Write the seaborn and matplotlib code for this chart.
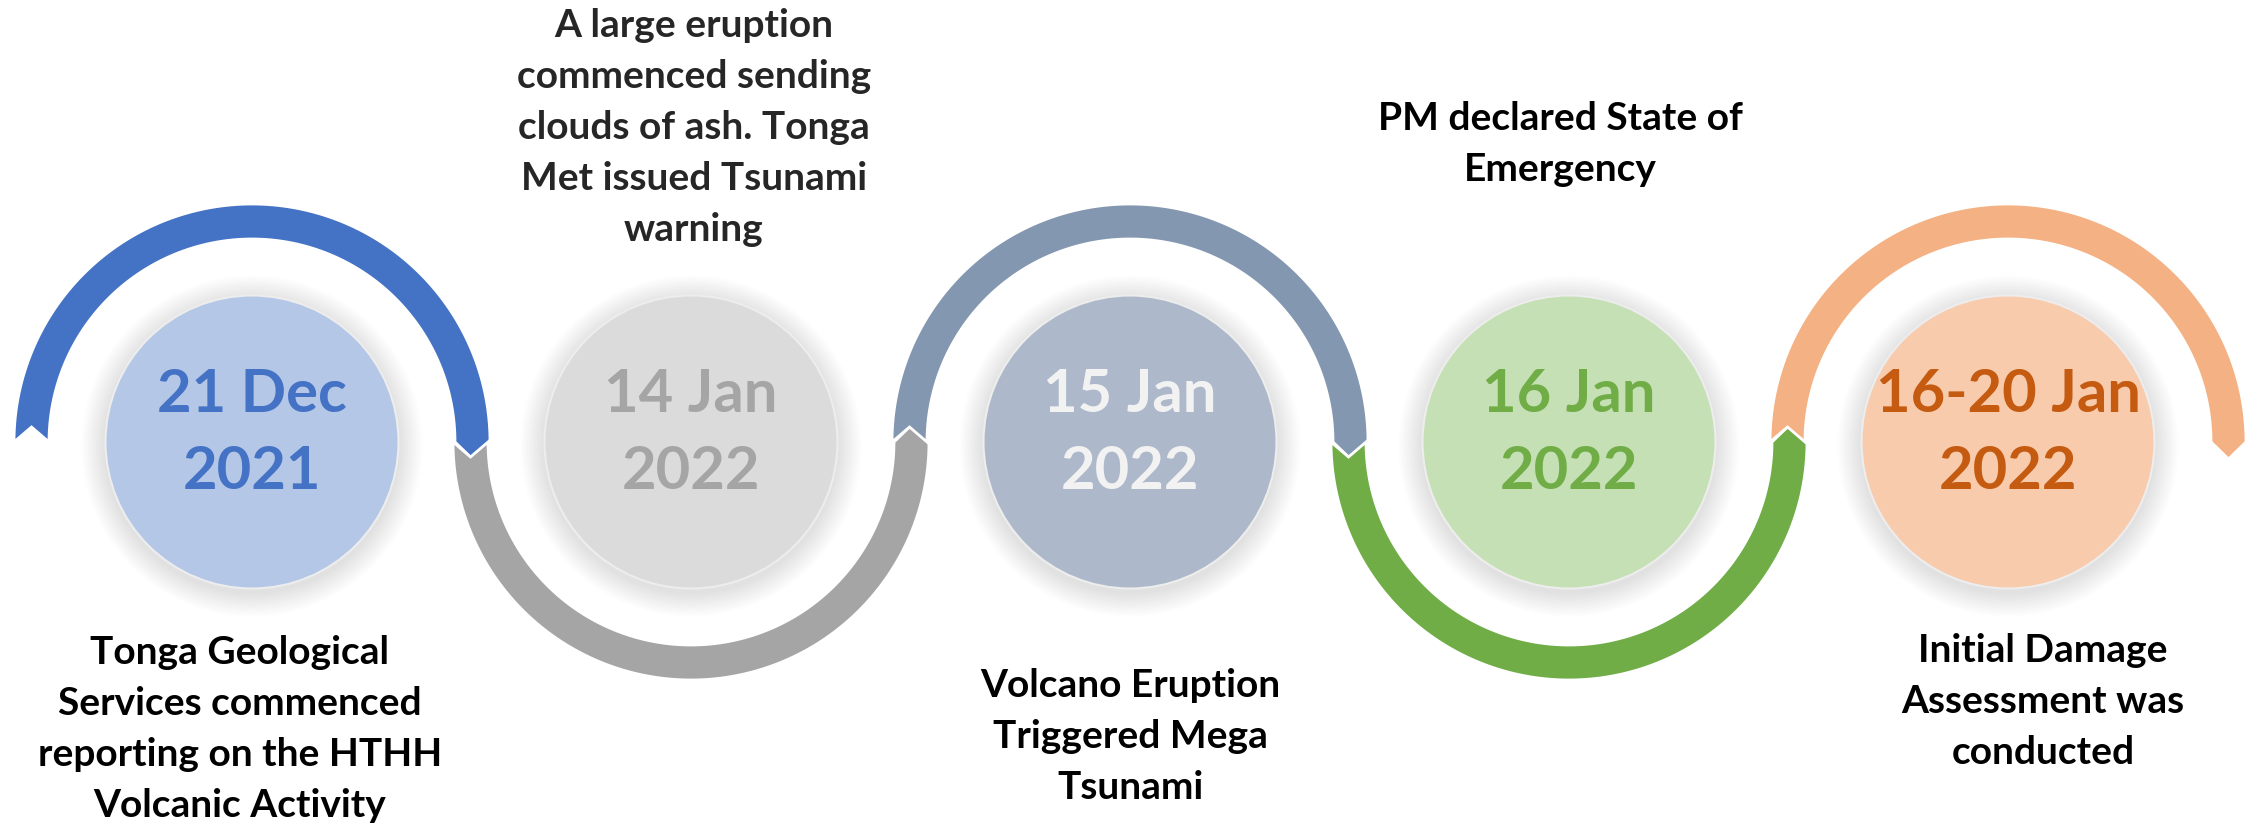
import numpy as np
import pandas as pd
import matplotlib
matplotlib.use("Agg")
import matplotlib.pyplot as plt
import seaborn as sns
from matplotlib.patches import Polygon, Circle

# timeline content
dates_top = ["21 Dec", "14 Jan", "15 Jan", "16 Jan", "16-20 Jan"]
dates_year = ["2021", "2022", "2022", "2022", "2022"]
events = [
    ["Tonga Geological", "Services commenced", "reporting on the HTHH", "Volcanic Activity"],
    ["A large eruption", "commenced sending", "clouds of ash. Tonga", "Met issued Tsunami", "warning"],
    ["Volcano Eruption", "Triggered Mega", "Tsunami"],
    ["PM declared State of", "Emergency"],
    ["Initial Damage", "Assessment was", "conducted"],
]

ring_colors = ["#4472C4", "#A5A5A5", "#8497B0", "#70AD47", "#F4B183"]
disc_colors = ["#B4C7E7", "#DBDBDB", "#ADB9CA", "#C5E0B4", "#F8CBAD"]
date_colors = ["#4472C4", "#A5A5A5", "#F2F2F2", "#70AD47", "#C55A11"]
text_colors = ["#000000", "#262626", "#000000", "#000000", "#000000"]

# layout (pixels)
X0, STEP, CY = 252, 439, 442
R_DISC = 146.5
R_OUT, BAND = 238, 35
NOTCH, TIP = 15, 17
LINE_GAP = 51
text_dx = [-12, 3, 0, -9, 35]
text_base = [664, 37, 697, 130, 662]

sns.set_theme(style="white")
plt.rcParams["font.family"] = ["Lato", "DejaVu Sans"]

fig = plt.figure(figsize=(22.55, 8.25), dpi=100)
ax = fig.add_axes([0, 0, 1, 1])

n = len(dates_top)
df = pd.DataFrame({
    "x": X0 + STEP * np.arange(n),
    "y": np.full(n, CY),
    "stage": dates_top,
})


def ring(cx, upper):
    s = -1 if upper else 1
    th = np.linspace(np.pi, 0, 160)
    r_in = R_OUT - BAND
    r_mid = R_OUT - BAND / 2
    outer = np.c_[cx + R_OUT * np.cos(th), CY + s * R_OUT * np.sin(th)]
    inner = np.c_[cx + r_in * np.cos(th[::-1]), CY + s * r_in * np.sin(th[::-1])]
    tip = [[cx + r_mid, CY - s * TIP]]
    notch = [[cx - r_mid, CY + s * NOTCH]]
    return np.vstack([outer, tip, inner, notch])


for i, cx in enumerate(df["x"]):
    ax.add_patch(Polygon(ring(cx, i % 2 == 0), closed=True, facecolor=ring_colors[i],
                         edgecolor="white", linewidth=2, zorder=2))
    # soft shadow round the disc
    for k in range(1, 16):
        ax.add_patch(Circle((cx, CY + 4), R_DISC + k * 1.6, color="black",
                            alpha=0.006, linewidth=0, zorder=3))

# discs
diam_pt = 2 * R_DISC * 72 / 100
sns.scatterplot(data=df, x="x", y="y", hue="stage", palette=disc_colors,
                s=diam_pt ** 2, edgecolor="#EDEDED", linewidth=1.5,
                legend=False, ax=ax, zorder=4)
ax.set_xlim(0, 2255)
ax.set_ylim(825, 0)
ax.axis("off")

for i, cx in enumerate(df["x"]):
    ax.text(cx, CY - 30, dates_top[i], ha="center", va="baseline", fontsize=43,
            fontweight="bold", color=date_colors[i], zorder=5)
    ax.text(cx, CY + 47, dates_year[i], ha="center", va="baseline", fontsize=43,
            fontweight="bold", color=date_colors[i], zorder=5)
    for j, line in enumerate(events[i]):
        ax.text(cx + text_dx[i], text_base[i] + j * LINE_GAP, line, ha="center",
                va="baseline", fontsize=28, fontweight="bold", color=text_colors[i],
                zorder=5)

fig.savefig("out.png", dpi=100, facecolor="white")
